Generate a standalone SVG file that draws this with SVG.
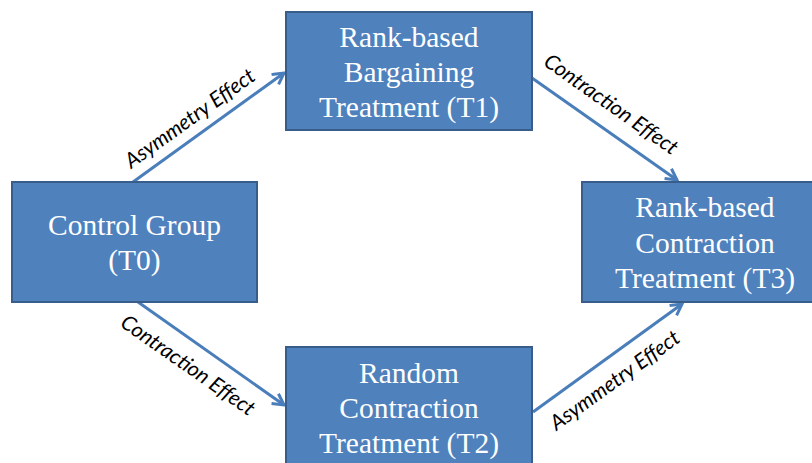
<svg xmlns="http://www.w3.org/2000/svg" width="812" height="463" viewBox="0 0 812 463">
<defs>
<style>
.box{fill:#4F81BD;stroke:#385D8A;stroke-width:2}
.t{font-family:"Liberation Serif","Times New Roman",serif;font-size:29.5px;fill:#fff;text-anchor:middle}
.c{stroke:#4A7EBB;stroke-width:3;fill:none;marker-end:url(#ah)}
.l{font-family:Lato,"Open Sans",sans-serif;font-style:italic;font-size:21px;fill:#000;text-anchor:middle}
</style>
<marker id="ah" markerUnits="userSpaceOnUse" markerWidth="16" markerHeight="16" refX="12" refY="7" orient="auto">
<path d="M1,1 L12,7 L1,13" fill="none" stroke="#4A7EBB" stroke-width="3" stroke-linejoin="miter"/>
</marker>
</defs>
<rect width="812" height="463" fill="#fff"/>
<g id="connectors">
<line class="c" x1="133" y1="182" x2="284" y2="73"/>
<line class="c" x1="532" y1="78" x2="677" y2="180"/>
<line class="c" x1="138" y1="302" x2="284" y2="405"/>
<line class="c" x1="533" y1="412" x2="682" y2="304"/>
<text class="l" transform="translate(194,124) rotate(-35.6)">Asymmetry Effect</text>
<text class="l" transform="translate(607,110) rotate(35.1)">Contraction Effect</text>
<text class="l" transform="translate(184,371) rotate(35)">Contraction Effect</text>
<text class="l" transform="translate(619,386) rotate(-35.8)">Asymmetry Effect</text>
</g>
<g id="T0">
<rect class="box" x="12" y="182" width="245" height="120"/>
<text class="t" x="134.5" y="235">Control Group</text>
<text class="t" x="134.5" y="270">(T0)</text>
</g>
<g id="T1">
<rect class="box" x="286" y="12" width="246" height="118"/>
<text class="t" x="409" y="47">Rank-based</text>
<text class="t" x="409" y="82">Bargaining</text>
<text class="t" x="409" y="117">Treatment (T1)</text>
</g>
<g id="T3">
<rect class="box" x="582" y="182" width="246" height="120"/>
<text class="t" x="705" y="217">Rank-based</text>
<text class="t" x="705" y="253">Contraction</text>
<text class="t" x="705" y="288">Treatment (T3)</text>
</g>
<g id="T2">
<rect class="box" x="286" y="347" width="246" height="130"/>
<text class="t" x="409" y="383">Random</text>
<text class="t" x="409" y="418">Contraction</text>
<text class="t" x="409" y="453">Treatment (T2)</text>
</g>
</svg>
